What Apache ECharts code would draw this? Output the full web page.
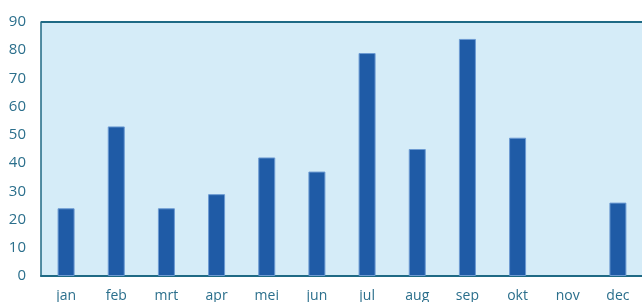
<!DOCTYPE html>
<html><head><meta charset="utf-8">
<script src="https://cdn.jsdelivr.net/npm/echarts@6/dist/echarts.min.js"></script>
<style>html,body{margin:0;padding:0;background:#fff}#c{width:642px;height:302px}</style>
</head><body><div id="c"></div>
<script>
const categories = ['jan','feb','mrt','apr','mei','jun','jul','aug','sep','okt','nov','dec'];
const values = [24, 53, 24, 29, 42, 37, 79, 45, 84, 49, 0, 26];
const yTicks = {min: 0, max: 90, interval: 10};

const chart = echarts.init(document.getElementById('c'));
chart.setOption({
  animation: false,
  grid: {left: 41, top: 22, width: 602, bottom: 26, show: true, backgroundColor: '#d5ecf8', borderWidth: 0,
         containLabel: false, outerBoundsMode: 'none'},
  xAxis: {
    type: 'category', data: categories,
    axisLine: {show: true, lineStyle: {color: '#1f6a85', width: 2}},
    axisTick: {show: false},
    axisLabel: {color: '#2b6f8c', fontSize: 14, fontFamily: 'Open Sans', margin: 13}
  },
  yAxis: {
    type: 'value', min: yTicks.min, max: yTicks.max, interval: yTicks.interval,
    axisLine: {show: true, lineStyle: {color: '#1f6a85', width: 1.5}},
    axisTick: {show: false},
    splitLine: {show: false},
    axisLabel: {color: '#2b6f8c', fontSize: 15, fontFamily: 'Open Sans', margin: 15}
  },
  series: [{
    type: 'bar', barWidth: 17,
    data: values.map(v => v === 0 ? {value: v, itemStyle: {borderWidth: 0, opacity: 0}} : v),
    itemStyle: {color: '#1f5ba6', borderColor: '#6c9ad2', borderWidth: 1}
  }, {
    type: 'line', data: [], markLine: {silent: true, symbol: 'none', label: {show: false},
      lineStyle: {color: '#1f6a85', width: 2, type: 'solid'}, data: [{yAxis: 90}]}
  }]
});
</script></body></html>
